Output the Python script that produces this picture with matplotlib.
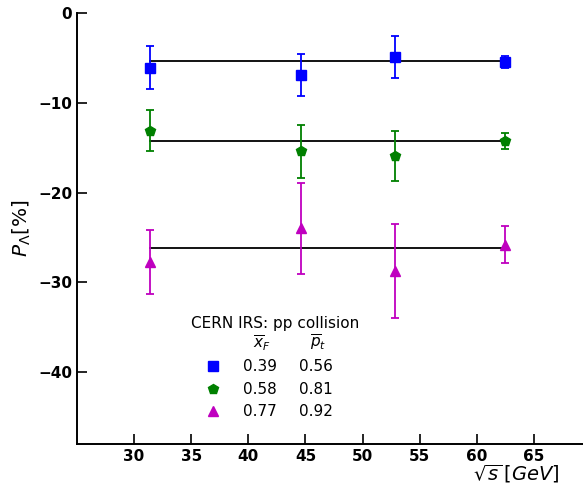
import matplotlib
matplotlib.use("Agg")
import matplotlib.pyplot as plt
import numpy as np

sqrt_s = [31.4, 44.6, 52.8, 62.5]

p_blue = [-6.1, -6.9, -4.9, -5.45]
e_blue = [2.4, 2.3, 2.3, 0.7]
fit_blue = -5.35

p_green = [-13.1, -15.4, -15.9, -14.25]
e_green = [2.3, 2.95, 2.8, 0.85]
fit_green = -14.25

p_mag = [-27.7, -24.0, -28.7, -25.8]
e_mag = [3.55, 5.1, 5.25, 2.05]
fit_mag = -26.2

xF = ["0.39", "0.58", "0.77"]
pt = ["0.56", "0.81", "0.92"]

W, H = 583, 486
fig = plt.figure(figsize=(W / 100, H / 100), dpi=100)
ax = fig.add_axes([77 / W, 1 - 444 / H, 1 - 77 / W, (444 - 13) / H])

series = [
    (p_blue, e_blue, fit_blue, "blue", "s", 7),
    (p_green, e_green, fit_green, "green", "p", 7.5),
    (p_mag, e_mag, fit_mag, "m", "^", 7.5),
]
for vals, errs, fit, col, mk, ms in series:
    ax.plot([sqrt_s[0], sqrt_s[-1]], [fit, fit], color="black", lw=1.3, zorder=1)
    ax.errorbar(sqrt_s, vals, yerr=errs, fmt=mk, color=col, ms=ms,
                capsize=3, elinewidth=1.3, capthick=1.3, zorder=3)

ax.set_xlim(25, 69.3)
ax.set_ylim(-48, 0)
ax.set_xticks([30, 35, 40, 45, 50, 55, 60, 65])
ax.set_yticks([0, -10, -20, -30, -40])
ax.spines["top"].set_visible(False)
ax.spines["right"].set_visible(False)
for s in ["left", "bottom"]:
    ax.spines[s].set_linewidth(1.4)
ax.tick_params(direction="in", length=7, width=1.2, labelsize=11)
for lbl in ax.get_xticklabels() + ax.get_yticklabels():
    lbl.set_fontweight("bold")

fig.text(22 / W, 1 - 228.5 / H, r"$P_\Lambda[\%]$", fontsize=14.5,
         ha="center", va="center", rotation=90)
fig.text(560 / W, 1 - 474 / H, r"$\sqrt{s}\,[GeV]$", fontsize=14,
         ha="right", va="center")

# legend block
def fx(px):
    return px / W

def fy(py):
    return 1 - py / H

fig.text(fx(275), fy(323), "CERN IRS: pp collision", fontsize=11, ha="center", va="center")
fig.text(fx(262), fy(343), r"$\overline{x}_F$", fontsize=11, ha="center", va="center")
fig.text(fx(318), fy(343), r"$\overline{p}_t$", fontsize=11, ha="center", va="center")
rows_y = [366, 389, 411]
for (vals, errs, fit, col, mk, ms), xf, p, ry in zip(series, xF, pt, rows_y):
    fig.lines.append(plt.Line2D([fx(213)], [fy(ry)], marker=mk, color=col, ms=ms,
                                transform=fig.transFigure, linestyle="none"))
    fig.text(fx(260), fy(ry), xf, fontsize=11, ha="center", va="center")
    fig.text(fx(316), fy(ry), p, fontsize=11, ha="center", va="center")

fig.savefig("out.png", dpi=100)
